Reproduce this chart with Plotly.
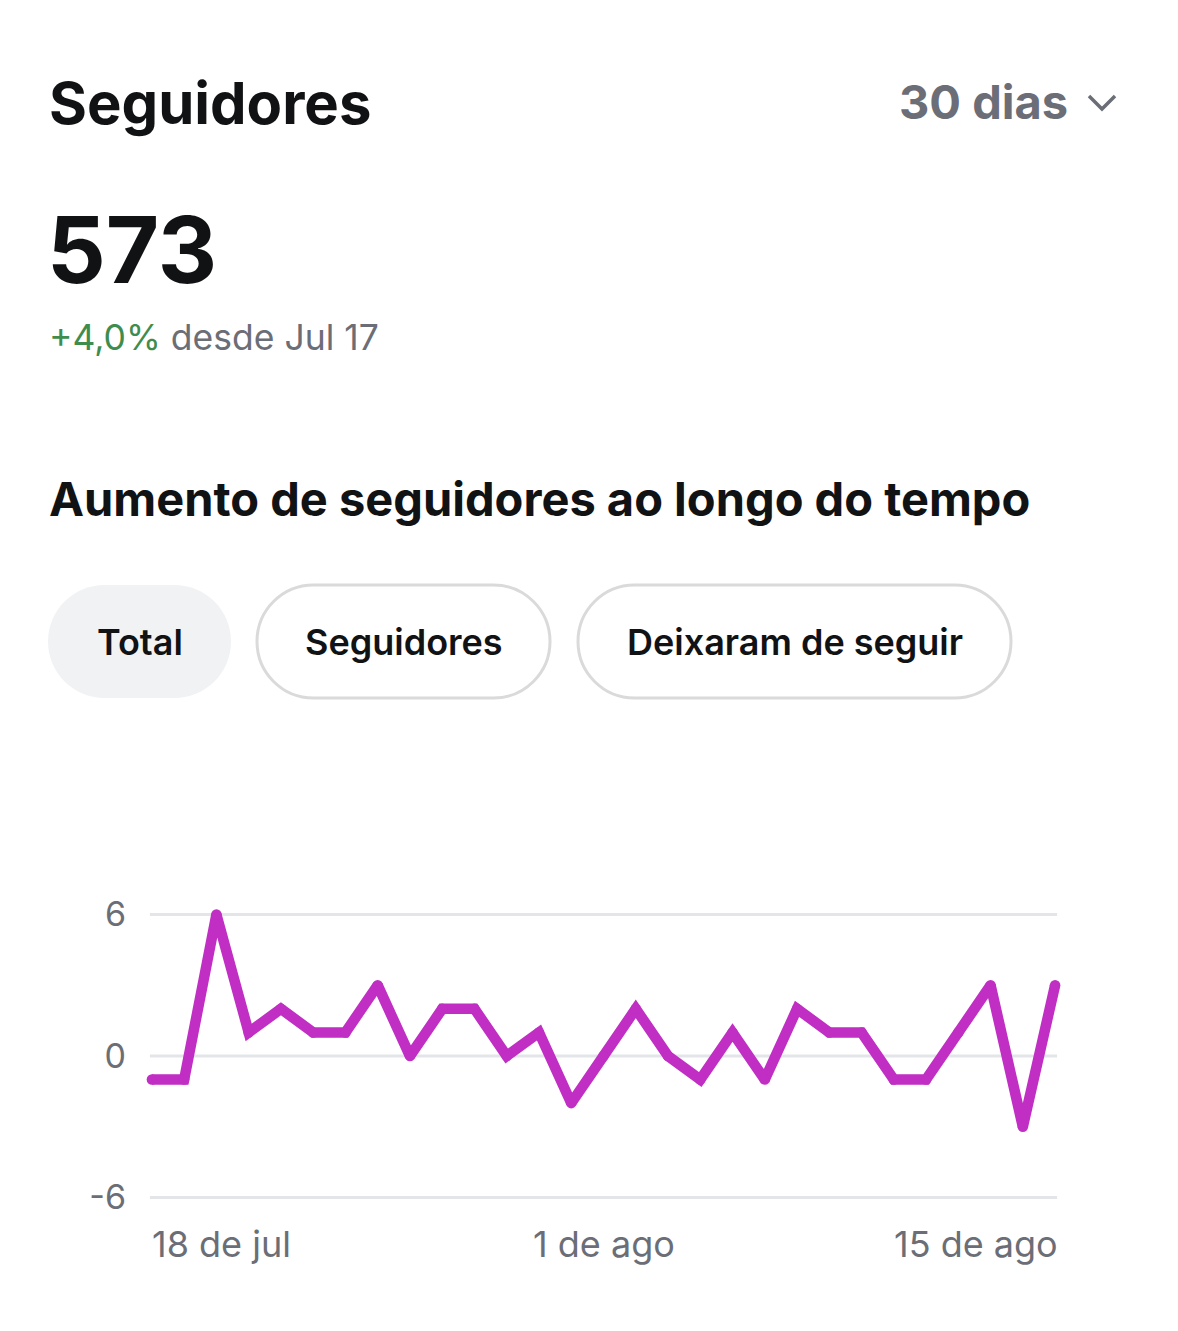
import pandas as pd
import plotly.graph_objects as go

# ---- data ----
start_date = "2023-07-18"
values = [-1, -1, 6, 1, 2, 1, 1, 3, 0, 2, 2, 0, 1, -2, 0, 2, 0, -1, 1, -1, 2, 1, 1, -1, -1, 1, 3, -3, 3]
dates = pd.date_range(start_date, periods=len(values), freq="D")
y_ticks = [-6, 0, 6]
y_tick_text = ["-6", "0", "6"]
x_tick_dates = ["2023-07-18", "2023-08-01", "2023-08-15"]
x_tick_text = ["18 de jul", "1 de ago", "15 de ago"]
x_tick_anchor = ["left", "center", "right"]
buttons = ["Total", "Seguidores", "Deixaram de seguir"]

title = "Seguidores"
period = "30 dias"
total = "573"
change = "+4,0%"
since = "desde Jul 17"
subtitle = "Aumento de seguidores ao longo do tempo"

# ---- layout geometry (pixels in the page; the page body has an 8px margin) ----
OFF = 8
WIDTH, HEIGHT = 1178 - 2 * OFF, 1331 - 2 * OFF
L = 139 - OFF
T = 891 - OFF
PLOT_W = 929
PLOT_H = 330
R = WIDTH - L - PLOT_W
B = HEIGHT - T - PLOT_H
BOTTOM = T + PLOT_H


def px(x):
    return (x - OFF - L) / PLOT_W


def py(y):
    return (BOTTOM - (y - OFF)) / PLOT_H


FONT = "Inter, Roboto, Arial, sans-serif"
BLACK = "#111214"
GRAY = "#6b6e76"
GREEN = "#3f8d4e"
MAGENTA = "#c12ec4"

fig = go.Figure()
fig.add_trace(go.Scatter(
    x=dates, y=values, mode="lines+markers",
    line=dict(color=MAGENTA, width=10.5),
    marker=dict(color=MAGENTA, size=10.5, line=dict(width=0)),
    hoverinfo="skip", showlegend=False, cliponaxis=True,
))

pad = pd.Timedelta(hours=9.6)
fig.update_xaxes(range=[dates[0] - pad, dates[-1] + pad], showgrid=False, zeroline=False,
                 showticklabels=False, showline=False, ticks="")
fig.update_yaxes(range=[-7, 7], showgrid=False, zeroline=False, showline=False, ticks="",
                 tickvals=y_ticks, ticktext=y_tick_text,
                 tickfont=dict(family=FONT, size=34, color=GRAY), ticklabelstandoff=12)

shapes = []
# gridlines
gpad = pd.Timedelta(hours=1.5)
for v in y_ticks:
    shapes.append(dict(type="line", xref="x", yref="y", x0=dates[0] - gpad, x1=dates[-1] + gpad,
                       y0=v, y1=v, line=dict(color="#e4e5e9", width=3), layer="below"))


def pill_path(w, h):
    r = h / 2
    k = 0.5523 * r
    cx = w / 2 - r
    return (f"M {-cx},{-r} L {cx},{-r} C {cx + k},{-r} {cx + r},{-k} {cx + r},0 "
            f"C {cx + r},{k} {cx + k},{r} {cx},{r} L {-cx},{r} "
            f"C {-cx - k},{r} {-cx - r},{k} {-cx - r},0 C {-cx - r},{-k} {-cx - k},{-r} {-cx},{-r} Z")


btn_boxes = [(48, 231), (257, 550), (578, 1011)]
btn_top, btn_bot = 585, 698
annotations = []
for i, (name, (x0, x1)) in enumerate(zip(buttons, btn_boxes)):
    cxp = (x0 + x1) / 2
    cyp = (btn_top + btn_bot) / 2
    selected = i == 0
    shapes.append(dict(
        type="path", xref="paper", yref="paper", xsizemode="pixel", ysizemode="pixel",
        xanchor=px(cxp), yanchor=py(cyp), path=pill_path(x1 - x0, btn_bot - btn_top),
        fillcolor="#f1f2f4" if selected else "#ffffff",
        line=dict(color="#f1f2f4" if selected else "#dadada", width=3 if not selected else 0),
        layer="below",
    ))
    annotations.append(dict(
        xref="paper", yref="paper", x=px(cxp), y=py(cyp), text=name, showarrow=False,
        xanchor="center", yanchor="middle",
        font=dict(family=FONT, size=36, color=BLACK, weight=600),
    ))

# chevron
shapes.append(dict(
    type="path", xref="paper", yref="paper", xsizemode="pixel", ysizemode="pixel",
    xanchor=px(1102), yanchor=py(102), path="M -13,6 L 0,-7 L 13,6",
    line=dict(color=GRAY, width=3.5), fillcolor="rgba(0,0,0,0)",
))

annotations += [
    dict(xref="paper", yref="paper", x=px(47), y=py(103), text=title, showarrow=False,
         xanchor="left", yanchor="middle", font=dict(family=FONT, size=58, color=BLACK, weight="bold")),
    dict(xref="paper", yref="paper", x=px(1070), y=py(102), text=period, showarrow=False,
         xanchor="right", yanchor="middle", font=dict(family=FONT, size=47, color=GRAY, weight="bold")),
    dict(xref="paper", yref="paper", x=px(45), y=py(249), text=total, showarrow=False,
         xanchor="left", yanchor="middle", font=dict(family=FONT, size=92, color=BLACK, weight="bold")),
    dict(xref="paper", yref="paper", x=px(47), y=py(337),
         text=f"<span style='color:{GREEN}'>{change}</span> {since}", showarrow=False,
         xanchor="left", yanchor="middle", font=dict(family=FONT, size=35.5, color=GRAY)),
    dict(xref="paper", yref="paper", x=px(47), y=py(498), text=subtitle, showarrow=False,
         xanchor="left", yanchor="middle", font=dict(family=FONT, size=47, color=BLACK, weight="bold")),
]

for d, t, a in zip(x_tick_dates, x_tick_text, x_tick_anchor):
    annotations.append(dict(xref="x", yref="paper", x=d, y=py(1244), text=t, showarrow=False,
                            xanchor=a, yanchor="middle", xshift=-2 if a == "left" else (5 if a == "right" else 0),
                            font=dict(family=FONT, size=36, color=GRAY)))

fig.update_layout(
    width=WIDTH, height=HEIGHT,
    margin=dict(l=L, r=R, t=T, b=B, autoexpand=False),
    paper_bgcolor="white", plot_bgcolor="white",
    shapes=shapes, annotations=annotations,
    showlegend=False,
)

fig.write_html("out.html", config={"displayModeBar": False})
